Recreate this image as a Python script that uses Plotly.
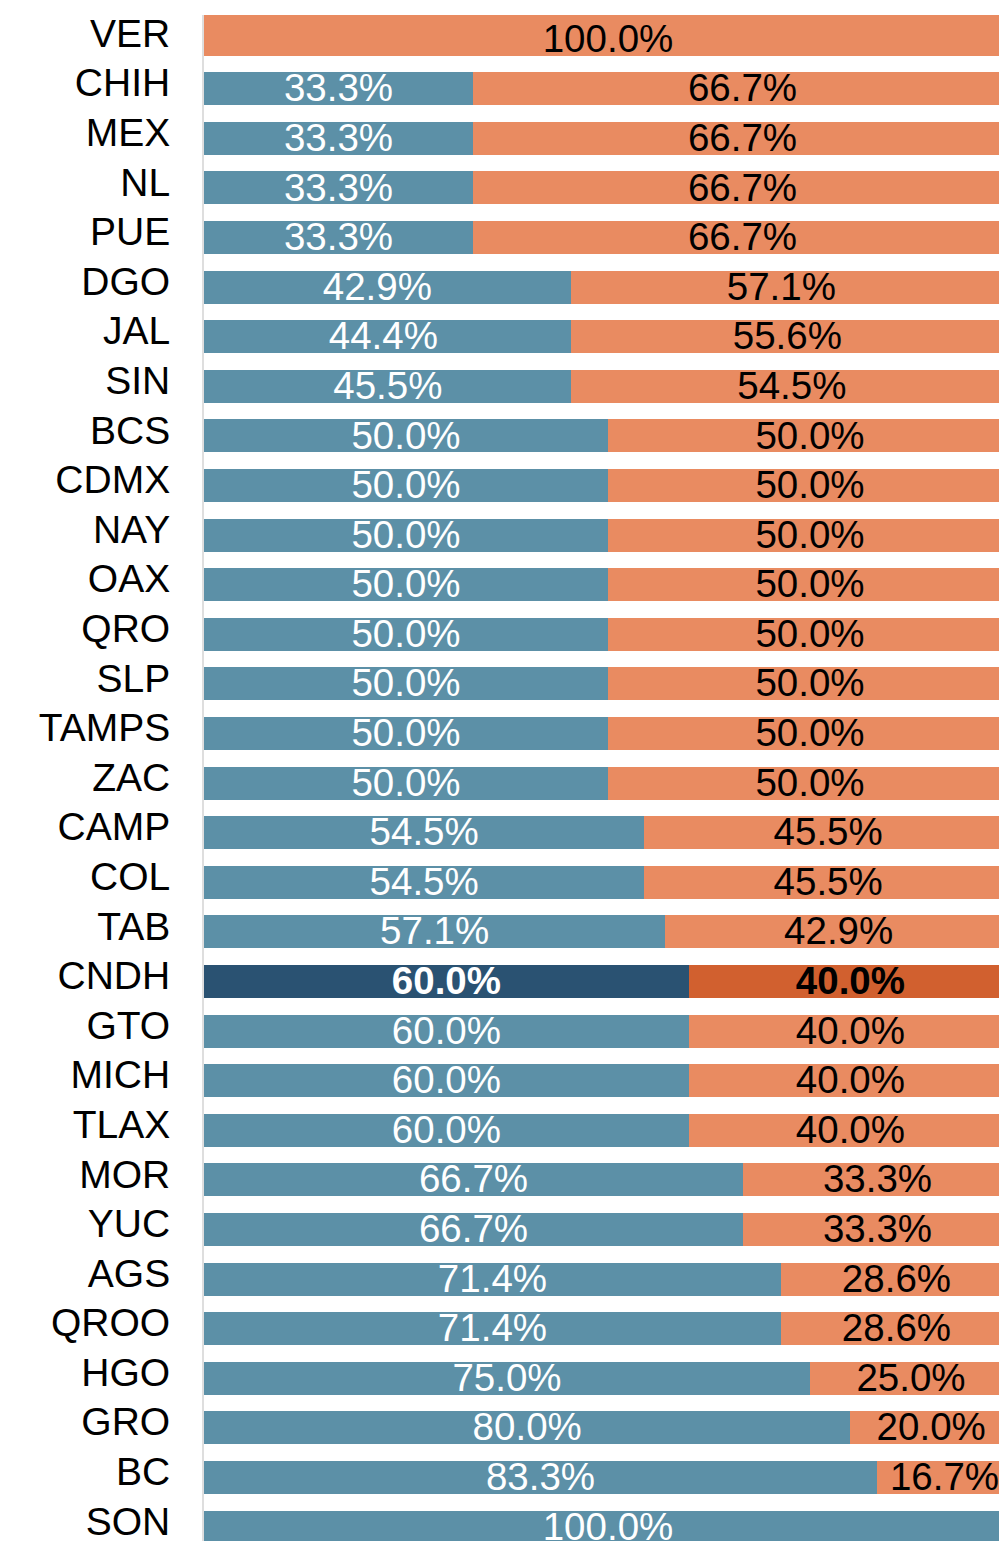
import plotly.graph_objects as go

states = ["VER", "CHIH", "MEX", "NL", "PUE", "DGO", "JAL", "SIN", "BCS", "CDMX",
          "NAY", "OAX", "QRO", "SLP", "TAMPS", "ZAC", "CAMP", "COL", "TAB", "CNDH",
          "GTO", "MICH", "TLAX", "MOR", "YUC", "AGS", "QROO", "HGO", "GRO", "BC", "SON"]

# labelled shares (%)
share_a = [0.0, 33.3, 33.3, 33.3, 33.3, 42.9, 44.4, 45.5, 50.0, 50.0,
           50.0, 50.0, 50.0, 50.0, 50.0, 50.0, 54.5, 54.5, 57.1, 60.0,
           60.0, 60.0, 60.0, 66.7, 66.7, 71.4, 71.4, 75.0, 80.0, 83.3, 100.0]
share_b = [100.0, 66.7, 66.7, 66.7, 66.7, 57.1, 55.6, 54.5, 50.0, 50.0,
           50.0, 50.0, 50.0, 50.0, 50.0, 50.0, 45.5, 45.5, 42.9, 40.0,
           40.0, 40.0, 40.0, 33.3, 33.3, 28.6, 28.6, 25.0, 20.0, 16.7, 0.0]

# bar lengths as drawn in the picture (DGO/JAL/SIN bars end at the same point)
bar_a = [0.0, 33.3, 33.3, 33.3, 33.3, 45.4, 45.4, 45.4, 50.0, 50.0,
         50.0, 50.0, 50.0, 50.0, 50.0, 50.0, 54.5, 54.5, 57.1, 60.0,
         60.0, 60.0, 60.0, 66.7, 66.7, 71.4, 71.4, 75.0, 80.0, 83.3, 100.0]
bar_b = [100.0 - v for v in bar_a]

highlight = "CNDH"

BLUE, ORANGE = "#5C90A7", "#E98B61"
BLUE_HI, ORANGE_HI = "#2A5272", "#D1602F"
FONT = "Liberation Sans, Arial, Helvetica, sans-serif"
FS_VAL = 38.5
FS_LAB = 39

col_a = [BLUE_HI if s == highlight else BLUE for s in states]
col_b = [ORANGE_HI if s == highlight else ORANGE for s in states]

bw = 0.665
widths = [1.0 if i == 0 else bw for i in range(len(states))]
offsets = [-bw / 2] * len(states)

def fmt(v, s):
    t = f"{v:.1f}%"
    return f"<b>{t}</b>" if s == highlight else t

fig = go.Figure()
fig.add_trace(go.Bar(y=states, x=bar_a, orientation="h", marker=dict(color=col_a, line=dict(width=0)),
                     width=widths, offset=offsets, hoverinfo="skip"))
fig.add_trace(go.Bar(y=states, x=bar_b, orientation="h", marker=dict(color=col_b, line=dict(width=0)),
                     width=widths, offset=offsets, hoverinfo="skip"))

# value labels
ta_x, ta_y, ta_t = [], [], []
tb_x, tb_y, tb_t = [], [], []
for s, a, b in zip(states, share_a, share_b):
    if a > 0:
        ta_x.append(a / 2); ta_y.append(s); ta_t.append(fmt(a, s))
    if b > 0:
        tb_x.append(a + b / 2); tb_y.append(s); tb_t.append(fmt(b, s))

fig.add_trace(go.Scatter(x=ta_x, y=ta_y, mode="text", text=ta_t, textposition="middle center",
                         textfont=dict(family=FONT, size=FS_VAL, color="white"), hoverinfo="skip",
                         yaxis="y2"))
fig.add_trace(go.Scatter(x=tb_x, y=tb_y, mode="text", text=tb_t, textposition="middle center",
                         textfont=dict(family=FONT, size=FS_VAL, color="black"), hoverinfo="skip",
                         yaxis="y2"))

n = len(states)
y_lo, y_hi = -0.282, n - 1 + 0.487
dy = 0.06  # value labels sit slightly lower than bar centres

fig.update_layout(
    width=999, height=1543,
    margin=dict(l=204, r=0, t=15, b=0),
    barmode="stack",
    showlegend=False,
    plot_bgcolor="white", paper_bgcolor="white",
    font=dict(family=FONT, size=FS_LAB, color="black"),
    yaxis2=dict(type="category", categoryorder="array", categoryarray=states[::-1],
                range=[y_lo + dy, y_hi + dy], overlaying="y", visible=False, fixedrange=True),
)
fig.update_xaxes(range=[0, 100 * (999 - 204) / 808], showgrid=False, zeroline=False,
                 showticklabels=False, showline=False, fixedrange=True)
fig.update_yaxes(selector=dict(overlaying=None), type="category", categoryorder="array",
                 categoryarray=states[::-1],
                 range=[y_lo, y_hi], showgrid=False, zeroline=False,
                 showline=True, linecolor="#DEDEDE", linewidth=2,
                 ticks="", ticklabelstandoff=24, ticklabelshift=-6,
                 tickfont=dict(family=FONT, size=FS_LAB, color="black"), fixedrange=True)

fig.write_html("out.html", config={"displayModeBar": False},
               post_script="document.body.style.margin='0';document.body.style.overflow='hidden';")
